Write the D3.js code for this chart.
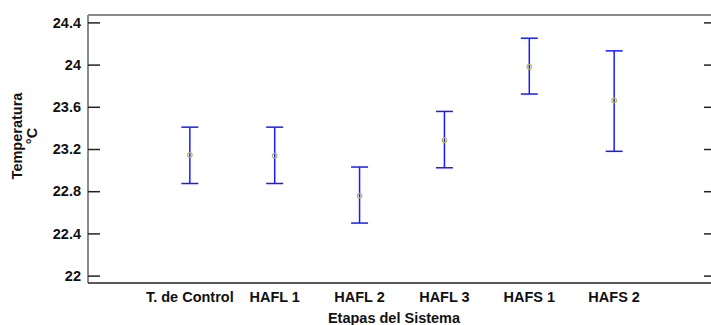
<!DOCTYPE html>
<html>
<head>
<meta charset="utf-8">
<script src="https://cdn.jsdelivr.net/npm/d3@7"></script>
<style>
  body { margin: 0; background: #fff; }
  text { font-family: "Liberation Sans", Arial, sans-serif; font-weight: bold; }
</style>
</head>
<body>
<div id="chart"></div>
<script>
// Data
const categories = ["T. de Control", "HAFL 1", "HAFL 2", "HAFL 3", "HAFS 1", "HAFS 2"];
const means = [23.143, 23.137, 22.759, 23.283, 23.98, 23.66];
const lower = [22.873, 22.873, 22.498, 23.022, 23.721, 23.178];
const upper = [23.407, 23.407, 23.029, 23.556, 24.25, 24.13];
const yTicks = [22, 22.4, 22.8, 23.2, 23.6, 24, 24.4];

const width = 711, height = 325;
const plotLeft = 88, plotRight = 716, plotTop = 15, plotBottom = 283;
const fontSize = 14.5;

const x = d3.scalePoint(categories, [plotLeft, plotRight]).padding(1.2);
const y = d3.scaleLinear([21.93, 24.47], [plotBottom, plotTop]);

const svg = d3.select("#chart").append("svg")
  .attr("width", width)
  .attr("height", height);

// frame
svg.append("line").attr("x1", plotLeft).attr("x2", plotRight).attr("y1", plotTop).attr("y2", plotTop)
  .attr("stroke", "#8a8a8a").attr("stroke-width", 2);
svg.append("line").attr("x1", plotLeft).attr("x2", plotLeft).attr("y1", plotTop).attr("y2", plotBottom)
  .attr("stroke", "#8a8a8a").attr("stroke-width", 2);
svg.append("line").attr("x1", plotRight).attr("x2", plotRight).attr("y1", plotTop).attr("y2", plotBottom)
  .attr("stroke", "#8a8a8a").attr("stroke-width", 2);
svg.append("line").attr("x1", plotLeft).attr("x2", plotRight).attr("y1", plotBottom).attr("y2", plotBottom)
  .attr("stroke", "#222").attr("stroke-width", 1.3);

// left axis
const yAxis = svg.append("g")
  .attr("transform", `translate(${plotLeft},0)`)
  .call(d3.axisRight(y).tickValues(yTicks).tickSize(12).tickFormat(d3.format("~g")));
yAxis.select(".domain").remove();
yAxis.selectAll(".tick line").attr("stroke", "#222").attr("stroke-width", 1.5);
yAxis.selectAll(".tick text")
  .attr("x", -7).attr("text-anchor", "end")
  .attr("font-size", fontSize).attr("font-family", null).attr("fill", "#111");

// right ticks
const yAxisR = svg.append("g")
  .attr("transform", `translate(${plotRight},0)`)
  .call(d3.axisLeft(y).tickValues(yTicks).tickSize(12).tickFormat(""));
yAxisR.select(".domain").remove();
yAxisR.selectAll(".tick line").attr("stroke", "#222").attr("stroke-width", 1.5);

// x labels
svg.append("g").selectAll("text")
  .data(categories)
  .join("text")
  .attr("x", d => x(d))
  .attr("y", 302)
  .attr("text-anchor", "middle")
  .attr("font-size", fontSize)
  .attr("fill", "#111")
  .text(d => d);

// axis titles
svg.append("text")
  .attr("x", 394).attr("y", 323)
  .attr("text-anchor", "middle").attr("font-size", fontSize).attr("fill", "#111")
  .text("Etapas del Sistema");

const yt = svg.append("text")
  .attr("transform", "translate(22,136) rotate(-90)")
  .attr("text-anchor", "middle").attr("font-size", fontSize).attr("fill", "#111");
yt.append("tspan").attr("x", 0).attr("dy", 0).text("Temperatura");
yt.append("tspan").attr("x", 0).attr("dy", "1.05em").text("°C");

// error bars
const cap = 8.5;
const bars = svg.append("g").attr("stroke", "#1a1aff").attr("stroke-width", 1.5);
categories.forEach((c, i) => {
  bars.append("line").attr("x1", x(c)).attr("x2", x(c)).attr("y1", y(upper[i])).attr("y2", y(lower[i]));
  bars.append("line").attr("x1", x(c) - cap).attr("x2", x(c) + cap).attr("y1", y(upper[i])).attr("y2", y(upper[i]));
  bars.append("line").attr("x1", x(c) - cap).attr("x2", x(c) + cap).attr("y1", y(lower[i])).attr("y2", y(lower[i]));
});

svg.append("g").selectAll("circle")
  .data(categories)
  .join("circle")
  .attr("cx", d => x(d))
  .attr("cy", (d, i) => y(means[i]))
  .attr("r", 2.3)
  .attr("fill", "none")
  .attr("stroke", "#b8b86a")
  .attr("stroke-width", 1.2);
</script>
</body>
</html>
